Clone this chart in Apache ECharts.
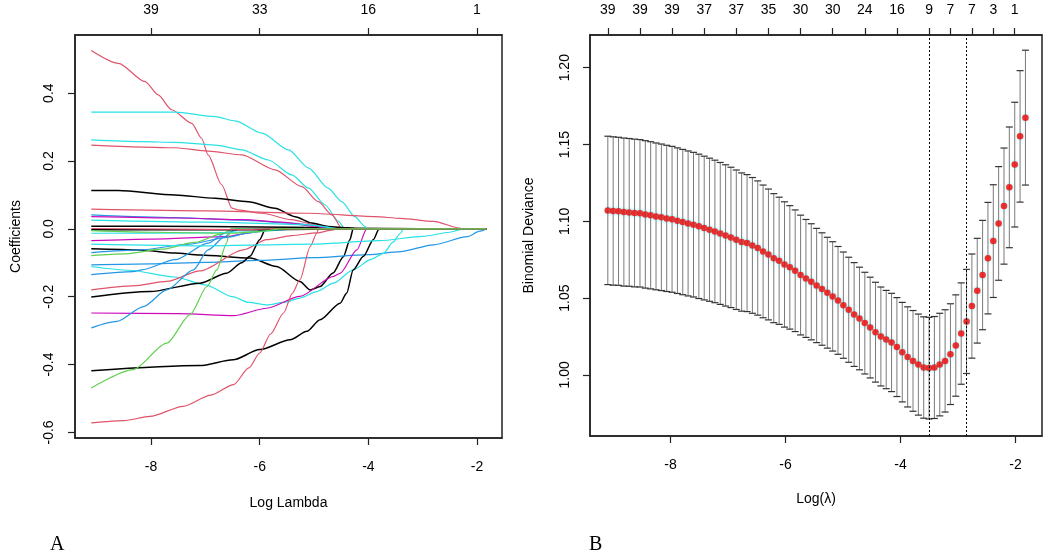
<!DOCTYPE html>
<html>
<head>
<meta charset="utf-8">
<script src="https://cdn.jsdelivr.net/npm/echarts@6/dist/echarts.min.js"></script>
<style>
  html, body { margin: 0; padding: 0; background: #fff; }
  #chart { width: 1050px; height: 553px; }
</style>
</head>
<body>
<div id="chart"></div>
<script>
// ---- panel A: coefficient paths (log lambda, coefficient) ----
var pathA = [
  [[-9.1,0.008],[-7.0,0.007],[-5.0,0.004],[-4.3,0.002],[-3.05,0]],
  [[-9.1,0.526],[-8.6,0.488],[-8.11,0.434],[-7.87,0.395],[-7.62,0.351],[-7.25,0.311],[-7.07,0.267],[-6.95,0.218],[-6.7,0.13],[-6.51,0.061],[-6.4,0.056],[-5.96,0.046],[-5.41,0.027],[-4.98,0.012],[-4.56,0.002],[-4.5,0]],
  [[-9.1,0.344],[-7.56,0.344],[-6.82,0.331],[-6.45,0.318],[-5.96,0.282],[-5.47,0.233],[-5.1,0.179],[-4.74,0.12],[-4.49,0.08],[-4.25,0.036],[-4.06,0.007],[-4.02,0]],
  [[-9.1,0.262],[-8.17,0.257],[-7.56,0.255],[-6.82,0.247],[-6.33,0.233],[-5.84,0.203],[-5.41,0.159],[-5.1,0.12],[-4.8,0.071],[-4.55,0.022],[-4.43,0]],
  [[-9.1,0.247],[-7.56,0.239],[-6.95,0.229],[-6.33,0.218],[-5.72,0.174],[-5.23,0.125],[-4.92,0.08],[-4.67,0.041],[-4.49,0.002],[-4.45,0]],
  [[-9.1,0.113],[-8.6,0.113],[-7.56,0.1],[-6.82,0.09],[-6.21,0.08],[-5.72,0.061],[-5.35,0.036],[-5.04,0.017],[-4.74,0.007],[-4.37,0.003],[-4.2,0]],
  [[-9.1,0.058],[-6.95,0.053],[-5.1,0.046],[-3.87,0.036],[-3.41,0.031],[-2.8,0.022],[-2.31,0.002],[-2.28,0]],
  [[-9.1,0.041],[-7.56,0.033],[-6.33,0.026],[-5.41,0.017],[-4.8,0.007],[-4.6,0]],
  [[-9.1,0.036],[-7.5,0.032],[-6.3,0.027],[-5.6,0.02],[-5.0,0.008],[-4.7,0]],
  [[-9.1,0.026],[-6.95,0.02],[-5.1,0.012],[-4.5,0]],
  [[-9.1,-0.035],[-8.0,-0.03],[-6.64,-0.023],[-6.03,-0.008],[-5.7,0]],
  [[-9.1,-0.059],[-8.2,-0.062],[-7.56,-0.071],[-7.1,-0.077],[-6.18,-0.086],[-5.69,-0.111],[-5.26,-0.155],[-5.07,-0.18],[-4.89,-0.17],[-4.65,-0.13],[-4.46,-0.082],[-4.34,-0.032],[-4.28,0]],
  [[-9.1,-0.07],[-8.2,-0.062],[-7.3,-0.045],[-6.6,-0.025],[-6.2,-0.012],[-5.8,0]],
  [[-9.1,-0.079],[-8.5,-0.074],[-7.8,-0.06],[-7.2,-0.04],[-6.7,-0.015],[-6.5,0]],
  [[-9.1,-0.106],[-8,-0.103],[-7,-0.099],[-6,-0.093],[-5,-0.085],[-4,-0.076],[-3.41,-0.067],[-2.8,-0.047],[-2.18,-0.023],[-1.95,-0.007]],
  [[-9.1,-0.111],[-8.4,-0.122],[-7.56,-0.142],[-7.0,-0.165],[-6.5,-0.2],[-6.2,-0.217],[-5.87,-0.224],[-5.5,-0.215],[-5.26,-0.204],[-4.95,-0.185],[-4.64,-0.16],[-4.28,-0.121],[-3.95,-0.09],[-3.72,-0.072],[-3.55,-0.04],[-3.41,-0.013],[-3.35,0]],
  [[-9.1,-0.135],[-8.33,-0.126],[-8.17,-0.121],[-7.56,-0.091],[-6.95,-0.042],[-6.64,-0.013],[-6.45,-0.005],[-6.4,0]],
  [[-9.1,-0.18],[-8.33,-0.168],[-7.71,-0.155],[-7.1,-0.124],[-6.3,-0.062],[-5.87,-0.032],[-5.41,-0.02],[-4.95,-0.012],[-4.65,-0.003],[-4.6,0]],
  [[-9.1,-0.201],[-8.02,-0.185],[-7.1,-0.16],[-6.61,-0.131],[-6.33,-0.1],[-6.18,-0.081],[-6.0,-0.032],[-5.9,-0.003],[-5.87,0]],
  [[-9.1,-0.248],[-7.5,-0.25],[-6.48,-0.256],[-5.87,-0.234],[-5.26,-0.199],[-4.64,-0.14],[-4.52,-0.131],[-4.21,-0.062],[-4.03,0]],
  [[-9.1,-0.292],[-8.63,-0.273],[-8.14,-0.229],[-7.71,-0.18],[-7.22,-0.121],[-6.95,-0.062],[-6.64,-0.023],[-6.51,-0.008],[-6.45,0]],
  [[-9.1,-0.418],[-7.1,-0.403],[-6.49,-0.386],[-6.0,-0.356],[-5.44,-0.327],[-5.13,-0.302],[-4.89,-0.268],[-4.52,-0.219],[-4.4,-0.19],[-4.28,-0.121],[-4.09,-0.081],[-3.91,-0.032],[-3.8,0]],
  [[-9.1,-0.469],[-8.33,-0.415],[-7.71,-0.337],[-7.28,-0.253],[-6.97,-0.17],[-6.79,-0.121],[-6.61,-0.042],[-6.56,-0.013],[-6.54,0]],
  [[-9.1,-0.572],[-8.5,-0.565],[-8.02,-0.553],[-7.41,-0.523],[-6.9,-0.49],[-6.48,-0.459],[-6.2,-0.41],[-6.0,-0.366],[-5.8,-0.31],[-5.56,-0.248],[-5.4,-0.19],[-5.26,-0.15],[-5.07,-0.052],[-4.95,-0.013],[-4.92,0]],
  [[-9.1,-0.045],[-7.0,-0.05],[-5.0,-0.045],[-3.8,-0.035],[-3.0,-0.022],[-2.5,-0.01],[-2.25,0]],
  [[-9.1,-0.013],[-7.0,-0.012],[-6.0,-0.008],[-5.3,0]],
  [[-9.1,-0.003],[-6.0,-0.003],[-5.0,-0.001],[-4.5,0]],
  [[-9.1,0.001],[-6.3,-0.002],[-5.8,0]],
  [[-9.1,-0.005],[-7.9,-0.01],[-6.5,-0.013],[-6.0,-0.008],[-5.6,0]]
];
// R palette index per path: 0 black, 1 red, 2 green, 3 blue, 4 cyan, 5 magenta
var pathColorIdx = [0,1,4,4,1,0,1,3,5,4,5,0,3,2,3,4,3,1,0,5,3,0,2,1,4,4,0,1,2];
var ticksA = [-8, -6, -4, -2];
var dfA = ['39', '33', '16', '1'];

// ---- panel B: cross-validated binomial deviance ----
var logLambda = [
  -9.090,-8.997,-8.904,-8.811,-8.718,-8.625,-8.531,-8.438,-8.345,-8.252,
  -8.159,-8.066,-7.973,-7.880,-7.787,-7.694,-7.600,-7.507,-7.414,-7.321,
  -7.228,-7.135,-7.042,-6.949,-6.856,-6.763,-6.669,-6.576,-6.483,-6.390,
  -6.297,-6.204,-6.111,-6.018,-5.925,-5.832,-5.738,-5.645,-5.552,-5.459,
  -5.366,-5.273,-5.180,-5.087,-4.994,-4.901,-4.807,-4.714,-4.621,-4.528,
  -4.435,-4.342,-4.249,-4.156,-4.063,-3.970,-3.876,-3.783,-3.690,-3.597,
  -3.504,-3.411,-3.318,-3.225,-3.132,-3.039,-2.945,-2.852,-2.759,-2.666,
  -2.573,-2.480,-2.387,-2.294,-2.201,-2.108,-2.014,-1.921,-1.828
];
var cvMean = [
  1.1071,1.1067,1.1065,1.1060,1.1058,1.1054,1.1052,1.1045,1.1039,1.1032,
  1.1026,1.1019,1.1013,1.1004,1.0995,1.0986,1.0978,1.0967,1.0956,1.0945,
  1.0934,1.0921,1.0908,1.0895,1.0880,1.0865,1.0858,1.0843,1.0826,1.0804,
  1.0784,1.0760,1.0743,1.0719,1.0700,1.0678,1.0650,1.0628,1.0606,1.0582,
  1.0559,1.0535,1.0511,1.0485,1.0454,1.0424,1.0393,1.0367,1.0337,1.0308,
  1.0278,1.0250,1.0230,1.0211,1.0181,1.0148,1.0117,1.0091,1.0067,1.0048,
  1.0044,1.0048,1.0067,1.0091,1.0135,1.0191,1.0269,1.0348,1.0448,1.0548,
  1.0650,1.0760,1.0871,1.0986,1.1099,1.1221,1.1369,1.1553,1.1675
];
var cvSe = [
  0.0483,0.0483,0.0482,0.0482,0.0481,0.0481,0.0480,0.0480,0.0479,0.0478,
  0.0477,0.0476,0.0475,0.0474,0.0473,0.0472,0.0471,0.0470,0.0468,0.0466,
  0.0464,0.0462,0.0460,0.0457,0.0454,0.0450,0.0446,0.0442,0.0437,0.0432,
  0.0426,0.0420,0.0414,0.0408,0.0402,0.0396,0.0390,0.0384,0.0378,0.0372,
  0.0366,0.0361,0.0356,0.0351,0.0346,0.0342,0.0338,0.0334,0.0331,0.0328,
  0.0325,0.0322,0.0320,0.0320,0.0322,0.0324,0.0326,0.0328,0.0329,0.0330,
  0.0331,0.0332,0.0334,0.0333,0.0328,0.0330,0.0330,0.0339,0.0339,0.0341,
  0.0356,0.0363,0.0367,0.0370,0.0378,0.0393,0.0406,0.0428,0.0439
];
var nzeroIdx = [0, 6, 12, 18, 24, 30, 36, 42, 48, 54, 60, 64, 68, 72, 76];
var nzeroLab = ['39','39','39','37','37','35','30','30','24','16','9','7','7','3','1'];
var lambdaMinIdx = 60;
var lambda1seIdx = 67;
var ticksB = [-8, -6, -4, -2];
var ticksBy = [1.00, 1.05, 1.10, 1.15, 1.20];
var ticksAy = [-0.6, -0.4, -0.2, 0.0, 0.2, 0.4];

var rCols = ['#000000', '#DF536B', '#61D04F', '#2297E6', '#28E2E5', '#CD0BBC'];
var FONT = '"Liberation Sans", Arial, sans-serif';
var xMin = -9.40, xMax = -1.54;

var eChart = echarts.init(document.getElementById('chart'), null, { renderer: 'canvas' });

function xAxisCfg(grid, pos, vals, fmt, name, gap) {
  return {
    type: 'value', gridIndex: grid, position: pos, min: xMin, max: xMax,
    name: name || '', nameLocation: 'middle', nameGap: gap || 0,
    nameTextStyle: { fontFamily: FONT, fontSize: 14, color: '#000' },
    axisLine: { show: true, onZero: false, lineStyle: { color: '#222', width: 1.5 } },
    axisTick: { show: true, length: 7, customValues: vals, lineStyle: { color: '#222', width: 1.2 } },
    axisLabel: { show: true, customValues: vals, formatter: fmt, margin: pos === 'top' ? 18 : 22,
      fontFamily: FONT, fontSize: 14, color: '#000' },
    splitLine: { show: false }
  };
}

function yAxisCfg(grid, min, max, vals, dec, name, gap, margin) {
  return {
    type: 'value', gridIndex: grid, min: min, max: max,
    name: name, nameLocation: 'middle', nameGap: gap,
    nameTextStyle: { fontFamily: FONT, fontSize: 14, color: '#000' },
    axisLine: { show: true, onZero: false, lineStyle: { color: '#222', width: 1.5 } },
    axisTick: { show: true, length: 7, customValues: vals, lineStyle: { color: '#222', width: 1.2 } },
    axisLabel: { show: true, customValues: vals, rotate: 90, margin: margin,
      formatter: function (v) { return v.toFixed(dec); },
      fontFamily: FONT, fontSize: 14, color: '#000' },
    splitLine: { show: false }
  };
}

function plainNum(v) { return String(Math.round(v)); }

var series = [];
pathA.forEach(function (p, i) {
  series.push({
    type: 'line', xAxisIndex: 0, yAxisIndex: 0,
    data: p.concat([[logLambda[logLambda.length - 1], 0]]),
    showSymbol: false, smooth: 0.25, smoothMonotone: 'x', silent: true,
    lineStyle: { color: rCols[pathColorIdx[i]], width: pathColorIdx[i] === 0 ? 1.5 : 1.2 },
    z: 2
  });
});

var barData = logLambda.map(function (x, i) {
  return [x, cvMean[i] - cvSe[i], cvMean[i] + cvSe[i]];
});
series.push({
  type: 'custom', xAxisIndex: 2, yAxisIndex: 1, silent: true,
  data: barData,
  renderItem: function (params, api) {
    var x = api.value(0);
    var top = api.coord([x, api.value(2)]);
    var bot = api.coord([x, api.value(1)]);
    var hw = 3.5;
    return { type: 'group', children: [
      { type: 'line', shape: { x1: top[0], y1: top[1], x2: bot[0], y2: bot[1] },
        style: { stroke: '#7a7a7a', lineWidth: 1 } },
      { type: 'line', shape: { x1: top[0] - hw, y1: top[1], x2: top[0] + hw, y2: top[1] },
        style: { stroke: '#333', lineWidth: 1.2 } },
      { type: 'line', shape: { x1: bot[0] - hw, y1: bot[1], x2: bot[0] + hw, y2: bot[1] },
        style: { stroke: '#333', lineWidth: 1.2 } }
    ] };
  },
  z: 2
});
series.push({
  type: 'scatter', xAxisIndex: 2, yAxisIndex: 1, silent: true,
  data: logLambda.map(function (x, i) { return [x, cvMean[i]]; }),
  symbol: 'circle', symbolSize: 6.5,
  itemStyle: { color: '#FF0000', shadowColor: 'rgba(40,226,229,0.7)', shadowBlur: 3 },
  markLine: {
    silent: true, symbol: 'none', label: { show: false },
    lineStyle: { color: '#000', type: [2, 2], width: 1 },
    data: [{ xAxis: logLambda[lambdaMinIdx] }, { xAxis: logLambda[lambda1seIdx] }]
  },
  z: 3
});

var topB = nzeroIdx.map(function (i) { return logLambda[i]; });

eChart.setOption({
  animation: false,
  backgroundColor: '#fff',
  grid: [
    { left: 75, right: 548, top: 35, bottom: 115, show: true, borderColor: '#222', borderWidth: 1.5 },
    { left: 590, right: 8, top: 35, bottom: 117, show: true, borderColor: '#222', borderWidth: 1.5 }
  ],
  xAxis: [
    xAxisCfg(0, 'bottom', ticksA, plainNum, 'Log Lambda', 58),
    xAxisCfg(0, 'top', ticksA, function (v) { return dfA[ticksA.indexOf(Math.round(v))]; }),
    xAxisCfg(1, 'bottom', ticksB, plainNum, 'Log(\u03bb)', 56),
    xAxisCfg(1, 'top', topB, function (v) {
      var best = 0;
      for (var k = 1; k < topB.length; k++) {
        if (Math.abs(topB[k] - v) < Math.abs(topB[best] - v)) best = k;
      }
      return nzeroLab[best];
    })
  ],
  yAxis: [
    yAxisCfg(0, -0.6165, 0.5714, ticksAy, 1, 'Coefficients', 52, 19),
    yAxisCfg(1, 0.9602, 1.2213, ticksBy, 2, 'Binomial Deviance', 54, 18)
  ],
  graphic: [
    { type: 'text', left: 50, top: 535, style: { text: 'A', font: '20px "Liberation Serif", "Times New Roman", serif', fill: '#000' } },
    { type: 'text', left: 589, top: 535, style: { text: 'B', font: '20px "Liberation Serif", "Times New Roman", serif', fill: '#000' } }
  ],
  series: series
});
</script>
</body>
</html>
